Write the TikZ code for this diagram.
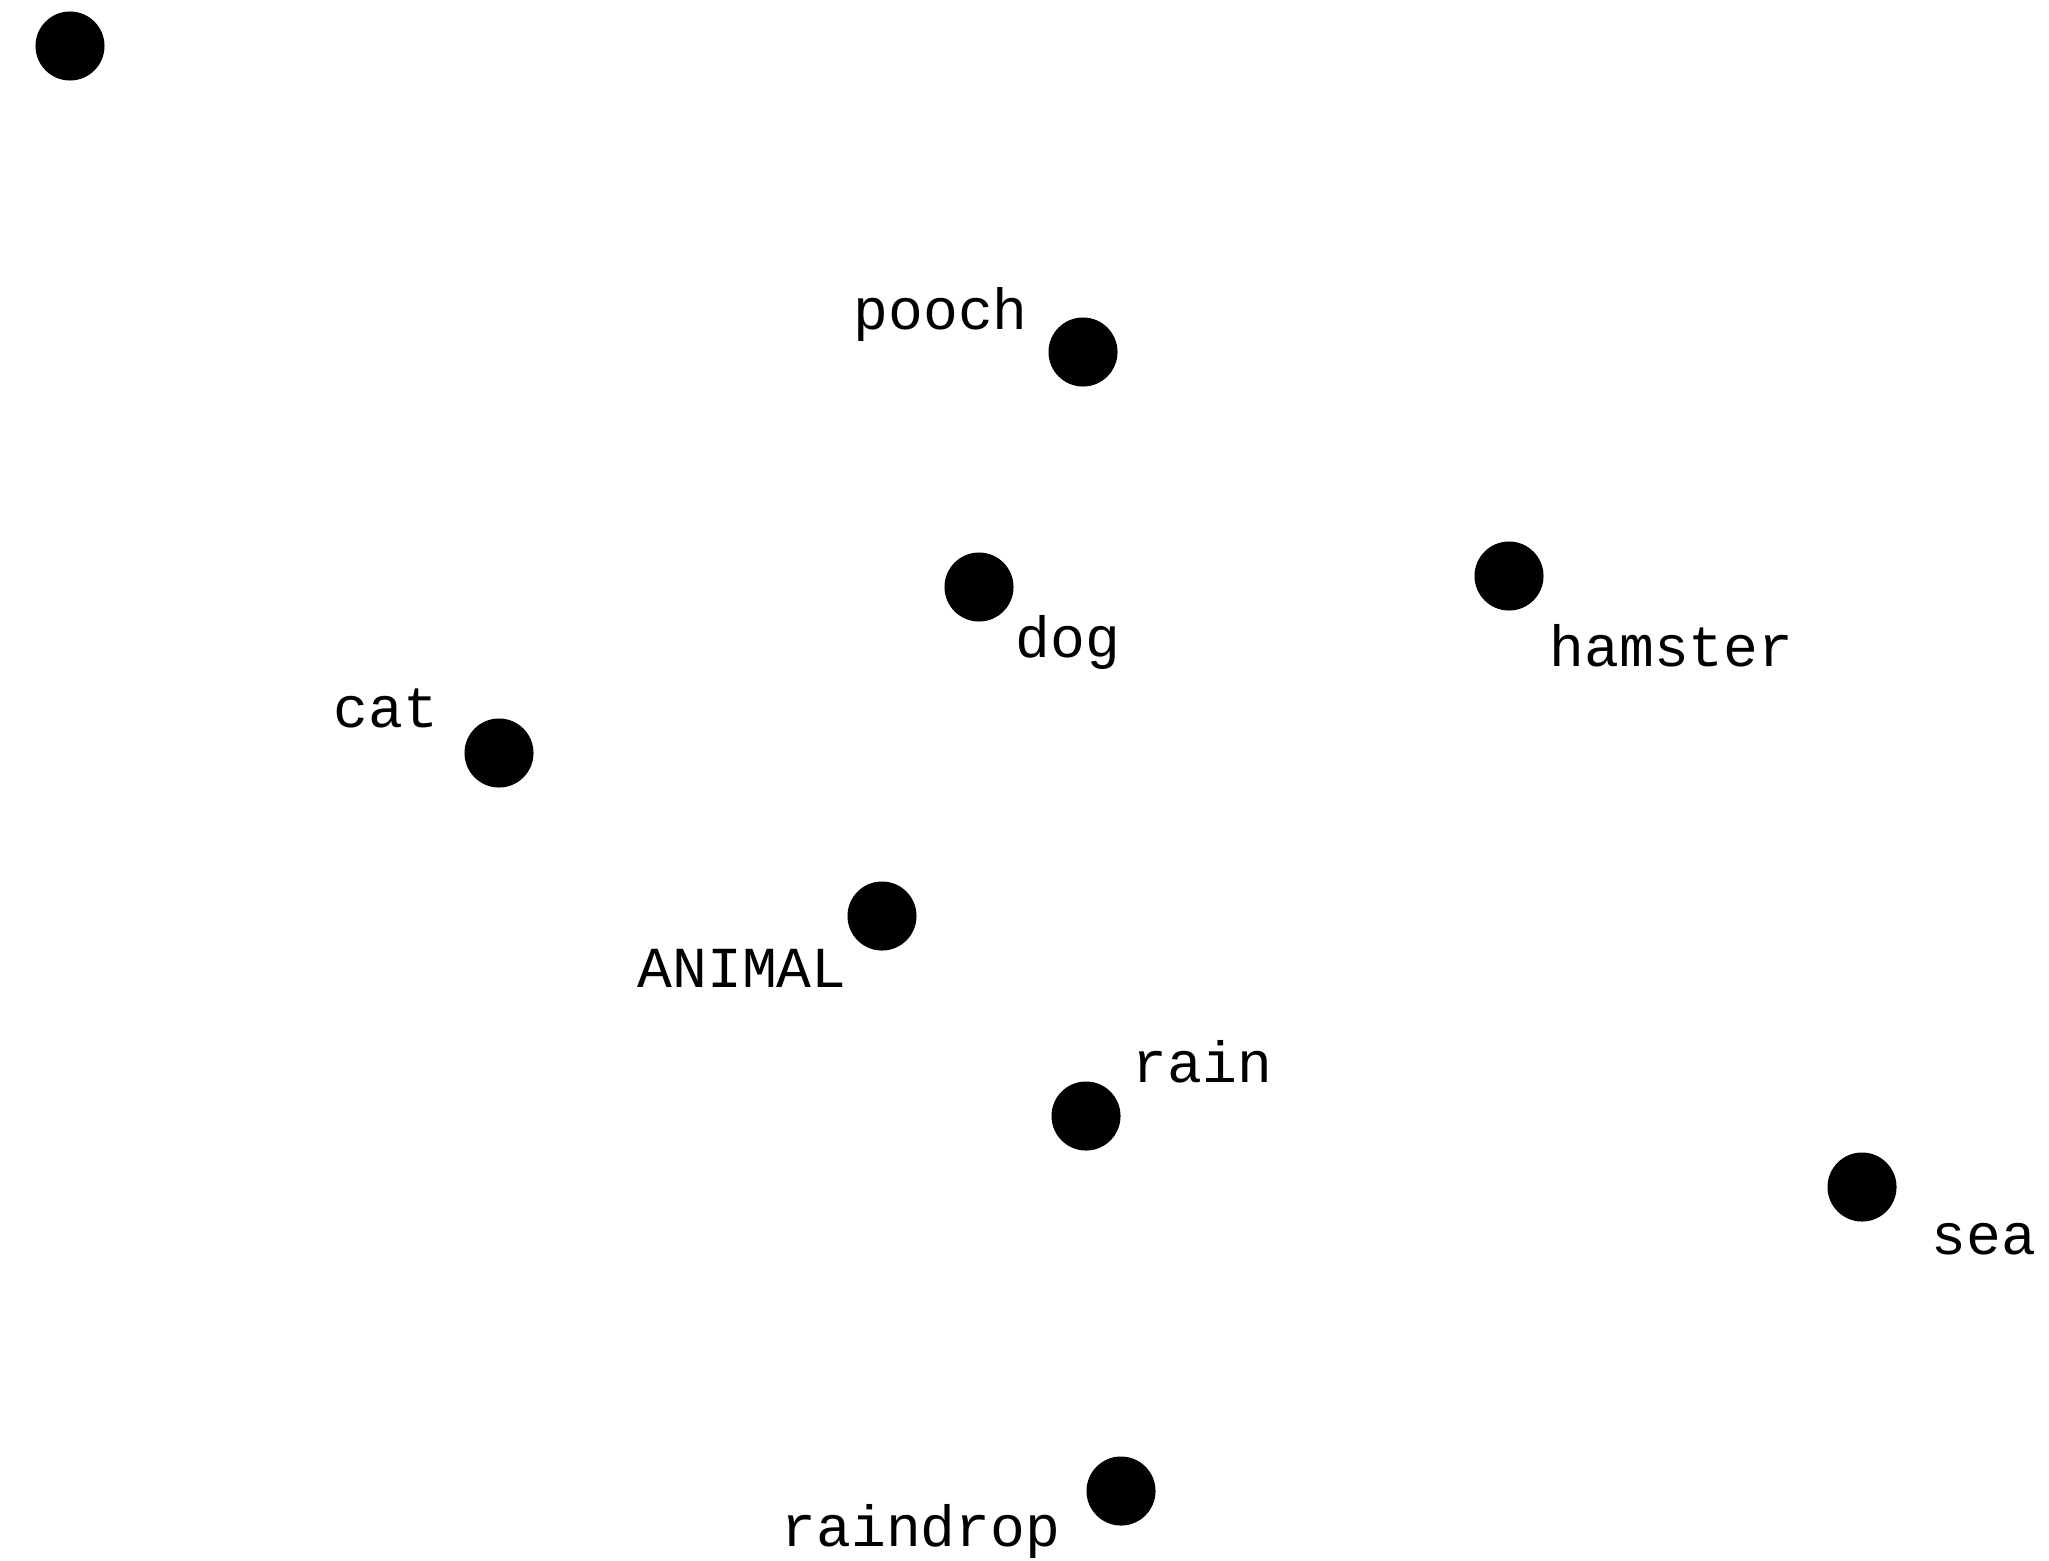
\documentclass[tikz,border=0pt]{standalone}
\usepackage{fontspec}
\setmonofont{Liberation Mono}
\usepackage{tikz}
\usetikzlibrary{positioning}

\begin{document}
\begin{tikzpicture}[
    x=0.01cm, y=-0.01cm,
    dot/.style={circle, fill=black, inner sep=0pt, minimum size=0.69cm},
    word/.style={anchor=base west, inner sep=0pt, font=\fontsize{16.5}{18}\selectfont\ttfamily}
]
    \useasboundingbox (0,0) rectangle (2049,1560);

    \node[dot] (origin) at (70,46) {};
    \node[dot] (pooch) at (1083,352) {};
    \node[dot] (dog) at (979,587) {};
    \node[dot] (hamster) at (1509,576) {};
    \node[dot] (cat) at (499,753) {};
    \node[dot] (animal) at (882,916) {};
    \node[dot] (rain) at (1086,1116) {};
    \node[dot] (sea) at (1862,1187) {};
    \node[dot] (raindrop) at (1121,1491) {};

    \node[word] (poochlbl) at (853,329) {pooch};
    \node[word] (doglbl) at (1015,657) {dog};
    \node[word] (hamsterlbl) at (1549,666) {hamster};
    \node[word] (catlbl) at (333,727) {cat};
    \node[word] (animallbl) at (637,987) {ANIMAL};
    \node[word] (rainlbl) at (1132,1082) {rain};
    \node[word] (sealbl) at (1931,1254) {sea};
    \node[word] (raindroplbl) at (781,1546) {raindrop};
\end{tikzpicture}
\end{document}
